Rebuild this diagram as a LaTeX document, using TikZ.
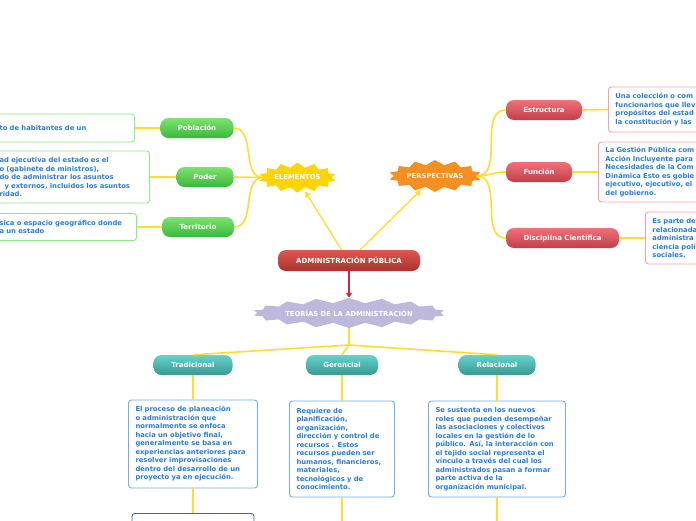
\documentclass[tikz,border=0pt]{standalone}
\usepackage{fontspec}
\setmainfont{DejaVu Sans}
\usetikzlibrary{shapes,arrows.meta,positioning,calc}
\usepackage{xcolor}
\definecolor{linkyellow}{RGB}{255,222,40}
\definecolor{arrowred}{RGB}{205,40,70}
\definecolor{admintop}{RGB}{222,88,78}
\definecolor{adminbot}{RGB}{168,50,45}
\definecolor{greentop}{RGB}{125,226,112}
\definecolor{greenbot}{RGB}{58,184,58}
\definecolor{redtop}{RGB}{242,112,120}
\definecolor{redbot}{RGB}{192,62,72}
\definecolor{tealtop}{RGB}{98,212,202}
\definecolor{tealbot}{RGB}{58,152,146}
\definecolor{burstyellow}{RGB}{255,212,0}
\definecolor{burstorange}{RGB}{246,142,32}
\definecolor{burstlilac}{RGB}{190,184,220}
\definecolor{notetext}{RGB}{40,125,225}
\definecolor{notegreen}{RGB}{140,235,128}
\definecolor{notepink}{RGB}{248,160,168}
\definecolor{noteblue}{RGB}{110,175,240}
\definecolor{notedeep}{RGB}{40,110,200}

\begin{document}
\begin{tikzpicture}[
    x=1pt, y=-1pt,
    every node/.style={font=\fontsize{6.8}{8.5}\selectfont\bfseries},
    pill/.style={rectangle, rounded corners=8pt, minimum height=20pt, inner sep=0pt, text=white, font=\fontsize{7}{8.5}\selectfont\bfseries},
    greenpill/.style={pill, top color=greentop, bottom color=greenbot},
    redpill/.style={pill, top color=redtop, bottom color=redbot},
    tealpill/.style={pill, top color=tealtop, bottom color=tealbot},
    burst/.style={starburst, random starburst=0, starburst points=14, starburst point height=5pt, text=white, inner sep=1pt},
    note/.style={rectangle, rounded corners=3pt, draw, fill=white, line width=0.9pt, text=notetext, align=left, inner xsep=7pt, inner ysep=3pt},
    link/.style={draw=linkyellow, line width=1.6pt},
    pointer/.style={draw=linkyellow, line width=1.3pt, shorten >=3pt, -{Triangle[length=6pt,width=6pt]}}
]

\useasboundingbox (0,0) rectangle (696,520);
\fill[white] (0,0) rectangle (696,520);
\clip (0,0) rectangle (696,520);

% Centre
\node[pill, top color=admintop, bottom color=adminbot, minimum width=142pt, minimum height=21pt] (admin) at (349,260.5) {ADMINISTRACIÓN PÚBLICA};

% Bursts
\node[burst, fill=burstyellow, minimum width=66pt, minimum height=30pt] (elem) at (297.5,177.5) {ELEMENTOS};
\node[burst, fill=burstorange, minimum width=85pt, minimum height=32pt] (persp) at (435,176) {PERSPECTIVAS};
\node[burst, fill=burstlilac, starburst points=18, minimum width=168pt, minimum height=30pt] (teo) at (349,313) {TEORÍAS DE LA ADMINISTRACIÓN};

% Elementos (left)
\node[greenpill, minimum width=73pt] (pob) at (197,128) {Población};
\node[greenpill, minimum width=57pt] (pod) at (205,177) {Poder};
\node[greenpill, minimum width=72pt] (terr) at (198,227) {Territorio};

\node[note, draw=notegreen, text width=128pt, minimum height=28pt, anchor=east] (pobnote) at (135,128) {to de habitantes de un};
\node[note, draw=notegreen, text width=143pt, minimum height=52pt, anchor=east] (podnote) at (150,177) {ad ejecutiva del estado es el\\o (gabinete de ministros),\\do de administrar los asuntos\\\hspace*{5pt}y externos, incluidos los asuntos\\ridad.};
\node[note, draw=notegreen, text width=130pt, minimum height=27pt, anchor=east] (terrnote) at (137,227) {sica  o espacio geográfico donde\\a un estado};

% Perspectivas (right)
\node[redpill, minimum width=76pt] (est) at (544,110) {Estructura};
\node[redpill, minimum width=66pt] (fun) at (539,172) {Función};
\node[redpill, minimum width=113pt] (disc) at (562.5,238) {Disciplina Científica};

\node[note, draw=notepink, text width=120pt, minimum height=45pt, anchor=west] (estnote) at (608,109.5) {Una colección o com\\funcionarios que llev\\propósitos del estad\\la constitución y las};
\node[note, draw=notepink, text width=120pt, minimum height=60pt, anchor=west] (funnote) at (598,172) {La Gestión Pública com\\Acción Incluyente para\\Necesidades de la Com\\Dinámica Esto es gobie\\ejecutivo, ejecutivo, el\\del gobierno.};
\node[note, draw=notepink, text width=120pt, minimum height=52pt, anchor=west] (discnote) at (645,238) {Es parte de\\relacionada\\administra\\ciencia polí\\sociales.};

% Teorias (bottom)
\node[tealpill, minimum width=79pt] (trad) at (193,365) {Tradicional};
\node[tealpill, minimum width=72pt] (ger) at (342,365) {Gerencial};
\node[tealpill, minimum width=77pt] (rel) at (497,365) {Relacional};

\node[note, draw=noteblue, text width=115pt, minimum height=88pt] (tradnote) at (193,444) {El proceso de planeación\\o administración que\\normalmente se enfoca\\hacia un objetivo final,\\generalmente se basa en\\experiencias anteriores para\\resolver improvisaciones\\dentro del desarrollo de un\\proyecto ya en ejecución.};
\node[note, draw=noteblue, text width=91pt, minimum height=96pt] (gernote) at (342,449) {Requiere de\\planificación,\\organización,\\dirección y control de\\recursos . Estos\\recursos pueden ser\\humanos, financieros,\\materiales,\\tecnológicos y de\\conocimiento.};
\node[note, draw=noteblue, text width=123pt, minimum height=96pt] (relnote) at (497,449) {Se sustenta en los nuevos\\roles que pueden desempeñar\\las asociaciones y colectivos\\locales en la gestión de lo\\público. Así, la interacción con\\el tejido social representa el\\vínculo a través del cual los\\administrados pasan a formar\\parte activa de la\\organización municipal.};
\node[note, draw=notedeep, minimum width=122pt, minimum height=40pt, anchor=north] (nextnote) at (193,513) {};

\coordinate (hub) at (349,345);
\coordinate (gerend) at (342,530);
\coordinate (relend) at (497,530);

% Connectors
\draw[pointer] (admin.125) -- (elem.-62);
\draw[pointer] (admin.44) -- (persp.-135);
\draw[arrowred, line width=1.6pt, -{Triangle[length=5pt,width=6pt]}] (admin.south) -- (teo.north);

\draw[link] (elem.west) to[out=180,in=0] (pob.east);
\draw[link] (elem.west) -- (pod.east);
\draw[link] (elem.west) to[out=180,in=0] (terr.east);
\draw[link] (pob.west) -- (pobnote.east);
\draw[link] (pod.west) -- (podnote.east);
\draw[link] (terr.west) -- (terrnote.east);

\draw[link] (persp.east) to[out=0,in=180] (est.west);
\draw[link] (persp.east) to[out=0,in=180] (fun.west);
\draw[link] (persp.east) to[out=0,in=180] (disc.west);
\draw[link] (est.east) -- (estnote.west);
\draw[link] (fun.east) -- (funnote.west);
\draw[link] (disc.east) -- (discnote.west);

\draw[link] (teo.south) -- (hub);
\draw[link] (hub) -- (trad.north);
\draw[link] (hub) -- (ger.north);
\draw[link] (hub) -- (rel.north);
\draw[link] (trad.south) -- (tradnote.north);
\draw[link] (ger.south) -- (gernote.north);
\draw[link] (rel.south) -- (relnote.north);
\draw[link] (tradnote.south) -- (nextnote.north);
\draw[link] (gernote.south) -- (gerend);
\draw[link] (relnote.south) -- (relend);

\end{tikzpicture}
\end{document}
